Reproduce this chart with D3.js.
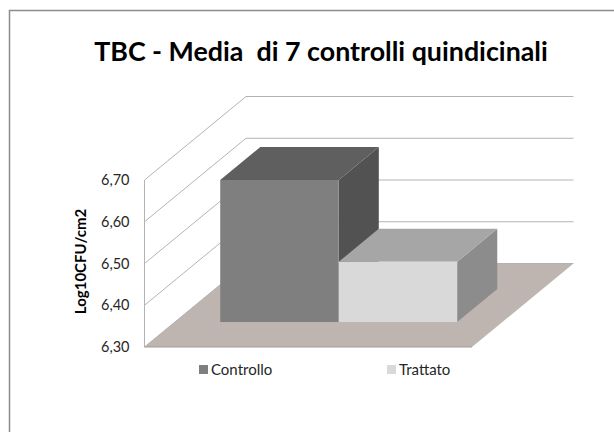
<!DOCTYPE html>
<html>
<head>
<meta charset="utf-8">
<script src="https://cdn.jsdelivr.net/npm/d3@7"></script>
<style>
    html, body { margin: 0; padding: 0; background: #fff; }
    svg { display: block; }
    text { font-family: Lato, "Open Sans", sans-serif; fill: #262626; }
</style>
</head>
<body>
<div id="chart"></div>
<script>
// values
var categories = ["Controllo", "Trattato"];
var values = [6.64, 6.444];
var ticks = [6.3, 6.4, 6.5, 6.6, 6.7];
var tickLabels = ["6,30", "6,40", "6,50", "6,60", "6,70"];
var titleText = "TBC - Media  di 7 controlli quindicinali";
var yLabel = "Log10CFU/cm2";

var frontColors = ["#7f7f7f", "#d9d9d9"];
var topColors = ["#5f5f5f", "#a6a6a6"];
var sideColors = ["#525252", "#8c8c8c"];

var width = 614;
var height = 432;

var svg = d3.select("#chart").append("svg")
    .attr("width", width)
    .attr("height", height);

// scales of the front plane of the box
var x = d3.scaleLinear().domain([0, 1]).range([144.5, 472]);
var y = d3.scaleLinear().domain([6.3, 6.7]).range([347, 180]);
var depthX = 101.5;
var depthY = -83.5;

function project(px, v, t) {
    return [px + t * depthX, y(v) + t * depthY];
}

function poly(points, fill) {
    return svg.append("polygon")
        .attr("points", points.map(function(p) { return p.join(","); }).join(" "))
        .style("fill", fill);
}

function segment(points, color, w) {
    svg.append("path")
        .attr("d", d3.line()(points))
        .style("fill", "none")
        .style("stroke", color)
        .style("stroke-width", w || 1);
}

// the frame runs off the right and bottom of the picture
segment([[9.5, height], [9.5, 10.5], [width, 10.5]], "#8c8c8c", 1.5);

svg.append("text")
    .attr("x", 321)
    .attr("y", 61)
    .attr("text-anchor", "middle")
    .style("font-size", "26.8px")
    .style("font-weight", "bold")
    .style("fill", "#000")
    .style("white-space", "pre")
    .text(titleText);

//floor
var v0 = ticks[0];
poly([project(x(0), v0, 0), project(x(1), v0, 0), project(x(1), v0, 1), project(x(0), v0, 1)], "#bfb5b0");

//gridlines, left wall then back wall
ticks.forEach(function(t) {
    segment([project(x(0), t, 0), project(x(0), t, 1), project(x(1), t, 1)], "#b3b3b3");
});
segment([project(x(0), 6.3, 0), project(x(0), 6.7, 0)], "#b3b3b3");
segment([project(x(0), 6.3, 0), project(x(1), 6.3, 0)], "#a09a96");

//bars
var band = d3.scaleBand()
    .domain(categories)
    .range([x(0), x(1)])
    .paddingInner(0)
    .paddingOuter(0.382);
var barFront = 0.3;
var barBack = 0.695;

categories.forEach(function(c, i) {
    var x0 = band(c);
    var x1 = x0 + band.bandwidth();
    var v = values[i];
    poly([project(x1, v0, barFront), project(x1, v0, barBack), project(x1, v, barBack), project(x1, v, barFront)], sideColors[i]);
    poly([project(x0, v, barFront), project(x1, v, barFront), project(x1, v, barBack), project(x0, v, barBack)], topColors[i]);
    poly([project(x0, v0, barFront), project(x1, v0, barFront), project(x1, v, barFront), project(x0, v, barFront)], frontColors[i]);
});

//axis labels
tickLabels.forEach(function(label, i) {
    svg.append("text")
        .attr("x", 129.5)
        .attr("y", y(ticks[i]) + 5)
        .attr("text-anchor", "end")
        .style("font-size", "14.5px")
        .text(label);
});

svg.append("text")
    .attr("transform", "translate(86,261.5) rotate(-90)")
    .attr("text-anchor", "middle")
    .style("font-size", "15px")
    .style("font-weight", "bold")
    .style("fill", "#000")
    .text(yLabel);

//legend
var legendX = d3.scalePoint().domain(categories).range([199, 387]);
var legend = svg.selectAll(".legend")
    .data(categories).enter()
    .append("g")
    .attr("class", "legend")
    .attr("transform", function(d) {
        return "translate(" + legendX(d) + ",365)";
    });
legend.append("rect")
    .attr("width", 9)
    .attr("height", 9)
    .style("fill", function(d, i) { return frontColors[i]; });
legend.append("text")
    .attr("x", 12)
    .attr("y", 10)
    .style("font-size", "15px")
    .text(function(d) { return d; });
</script>
</body>
</html>
